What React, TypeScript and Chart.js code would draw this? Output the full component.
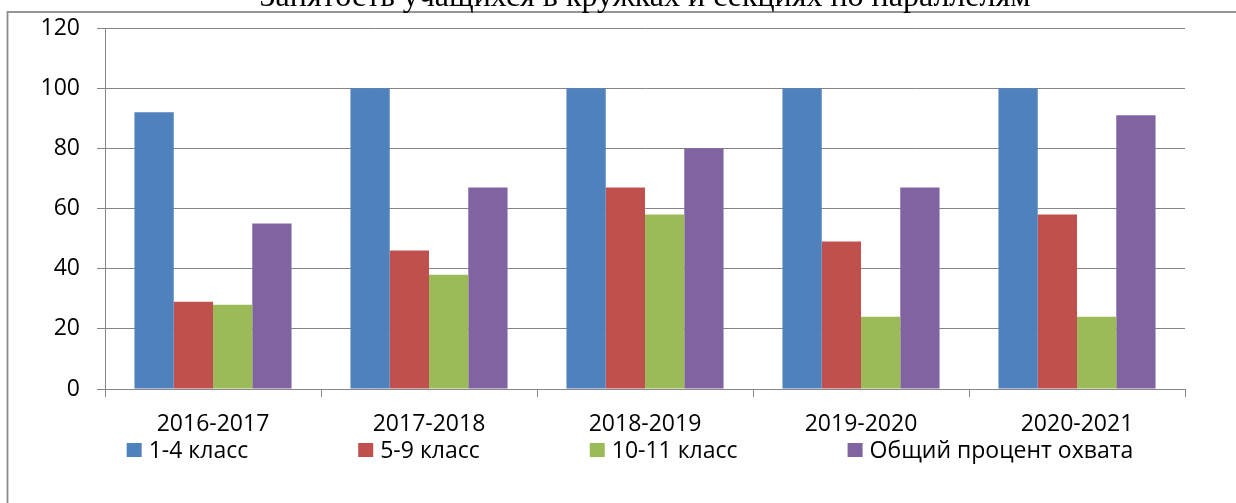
import React, { useEffect, useRef } from "react";
import { Chart, registerables } from "chart.js";

Chart.register(...registerables);

const TITLE = "Занятость учащихся в кружках и секциях по параллелям";
const categories = ["2016-2017", "2017-2018", "2018-2019", "2019-2020", "2020-2021"];
const seriesNames = ["1-4 класс", "5-9 класс", "10-11 класс", "Общий процент охвата"];
const grade1to4 = [92, 100, 100, 100, 100];
const grade5to9 = [29, 46, 67, 49, 58];
const grade10to11 = [28, 38, 58, 24, 24];
const totalCoverage = [55, 67, 80, 67, 91];
const yMin = 0;
const yMax = 120;
const yStep = 20;
const seriesColors = ["#4F81BD", "#C0504D", "#9BBB59", "#8064A2"];

const GRID = "#868686";
const FONT = '"Open Sans", "Noto Sans", sans-serif';

const framePlugin = {
  id: "frameAndTitle",
  beforeDraw(chart: any) {
    const { ctx, chartArea } = chart;
    ctx.save();
    ctx.fillStyle = "#ffffff";
    ctx.fillRect(0, 0, chart.width, chart.height);
    ctx.strokeStyle = "#8a8a8a";
    ctx.lineWidth = 1.8;
    ctx.strokeRect(7.5, 12, chart.width + 20, chart.height + 20);
    ctx.fillStyle = "#000000";
    ctx.font = '32px "Liberation Serif", serif';
    ctx.textAlign = "center";
    ctx.textBaseline = "alphabetic";
    ctx.fillText(TITLE, (chartArea.left + chartArea.right) / 2, 6);
    ctx.restore();
  },
};

const legendPlugin = {
  id: "bottomLegend",
  afterDraw(chart: any) {
    const { ctx, chartArea } = chart;
    const datasets = chart.data.datasets;
    ctx.save();
    ctx.font = "23px " + FONT;
    ctx.textAlign = "left";
    ctx.textBaseline = "middle";
    const boxW = 15;
    const boxH = 14;
    const textGap = 7;
    const itemGap = 110;
    const widths = datasets.map((d: any) => boxW + textGap + ctx.measureText(d.label).width);
    const total = widths.reduce((a: number, b: number) => a + b, 0) + itemGap * (datasets.length - 1);
    let x = chart.width / 2 + 12 - total / 2;
    const y = chartArea.bottom + 61;
    datasets.forEach((d: any, i: number) => {
      ctx.fillStyle = d.backgroundColor;
      ctx.fillRect(x, y - boxH / 2, boxW, boxH);
      ctx.fillStyle = "#000000";
      ctx.fillText(d.label, x + boxW + textGap, y + 1);
      x += widths[i] + itemGap;
    });
    ctx.restore();
  },
};

export default function App() {
  const canvasRef = useRef<HTMLCanvasElement | null>(null);

  useEffect(() => {
    if (!canvasRef.current) return;
    const series = [grade1to4, grade5to9, grade10to11, totalCoverage];
    const chart = new Chart(canvasRef.current, {
      type: "bar",
      data: {
        labels: categories,
        datasets: series.map((values, i) => ({
          label: seriesNames[i],
          data: values,
          backgroundColor: seriesColors[i],
          borderWidth: 0,
          categoryPercentage: 4 / 5.5,
          barPercentage: 1,
        })),
      },
      options: {
        animation: false,
        responsive: true,
        maintainAspectRatio: false,
        layout: { padding: { left: 0, top: 28, right: 51, bottom: 0 } },
        plugins: {
          legend: { display: false },
          title: { display: false },
          tooltip: { enabled: false },
        },
        scales: {
          x: {
            grid: {
              display: true,
              drawOnChartArea: false,
              drawTicks: true,
              tickLength: 8,
              color: GRID,
              offset: true,
            },
            border: { display: true, color: GRID, width: 1 },
            ticks: {
              color: "#000000",
              font: { family: FONT, size: 23 },
              padding: 14,
              maxRotation: 0,
              autoSkip: false,
            },
            afterFit: (scale: any) => {
              scale.height = 114;
              scale.paddingLeft = 0;
              scale.paddingRight = 0;
            },
          },
          y: {
            min: yMin,
            max: yMax,
            grid: { color: GRID, lineWidth: 1, tickLength: 8, drawTicks: true },
            border: { display: true, color: GRID, width: 1 },
            ticks: {
              stepSize: yStep,
              color: "#000000",
              font: { family: FONT, size: 23 },
              padding: 17,
            },
            afterFit: (scale: any) => {
              scale.width = 105;
              scale.paddingTop = 0;
              scale.paddingBottom = 0;
            },
          },
        },
      },
      plugins: [framePlugin, legendPlugin],
    });
    return () => chart.destroy();
  }, []);

  return (
    <div style={{ position: "fixed", left: 0, top: 0, width: 1236, height: 503, background: "#fff" }}>
      <canvas ref={canvasRef} />
    </div>
  );
}
